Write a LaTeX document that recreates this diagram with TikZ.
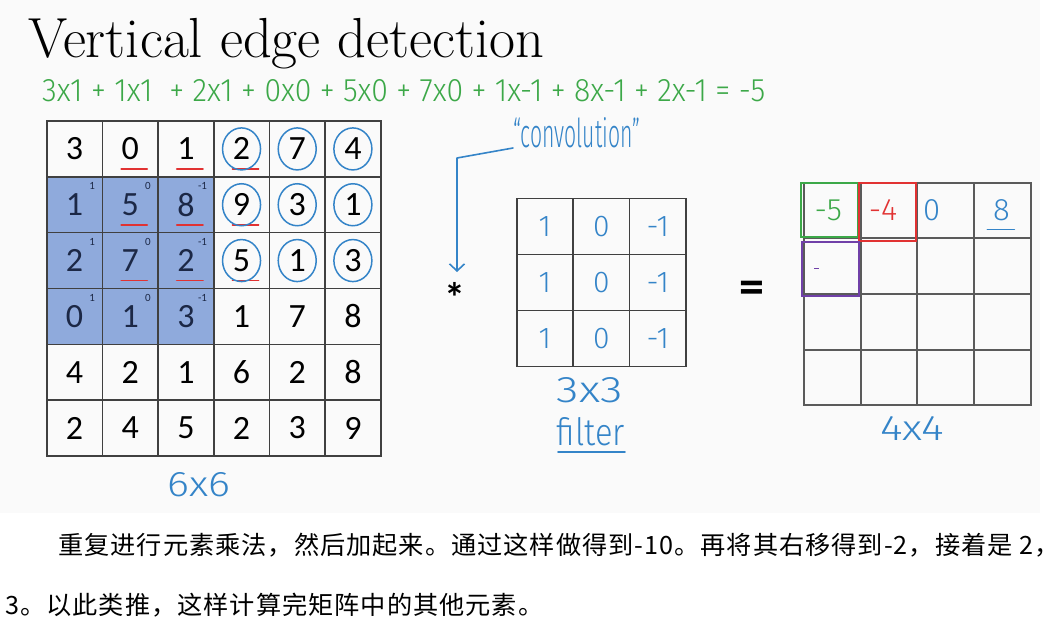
\documentclass[tikz,border=0pt]{standalone}
\usepackage{fontspec}
\usetikzlibrary{arrows.meta}
\newfontfamily\cellfont{Carlito}
\newfontfamily\handfont{Fira Sans Light}
\newfontfamily\cjkfont[LetterSpace=4]{Noto Sans CJK SC}
\definecolor{slidebg}{RGB}{250,250,250}
\definecolor{winblue}{RGB}{143,170,220}
\definecolor{gridc}{RGB}{64,64,64}
\definecolor{outgrid}{RGB}{90,90,90}
\definecolor{penblue}{RGB}{52,132,200}
\definecolor{pengreen}{RGB}{60,168,72}
\definecolor{penred}{RGB}{225,50,50}
\definecolor{penpurple}{RGB}{112,64,168}
\definecolor{navy}{RGB}{28,40,70}
\newcommand{\handtext}[3]{\resizebox{#1pt}{#2pt}{\handfont #3}}
\begin{document}
\begin{tikzpicture}[x=1pt,y=-1pt,
  cell/.style={draw=gridc,line width=1.6pt,minimum width=55.67pt,minimum height=55.83pt,inner sep=0pt,font=\cellfont\fontsize{34}{34}\selectfont},
  fcell/.style={draw=gridc,line width=1.6pt,minimum width=56.4pt,minimum height=56.1pt,inner sep=0pt,text=penblue,font=\handfont\fontsize{30}{30}\selectfont},
  ocell/.style={draw=outgrid,line width=2pt,minimum width=56.67pt,minimum height=55.6pt,inner sep=0pt,font=\handfont\fontsize{31}{31}\selectfont},
  supnum/.style={inner sep=0pt,text=navy,font=\cellfont\fontsize{11}{11}\selectfont},
  redline/.style={penred,line width=1.8pt,line cap=round},
  bluecirc/.style={penblue,line width=1.5pt},
  pen/.style={penblue,line width=1.6pt,line cap=round,line join=round},
  label/.style={inner sep=0pt,text=penblue},
  outval/.style={inner sep=0pt,font=\handfont\fontsize{31}{31}\selectfont}
]
\useasboundingbox (0,0) rectangle (1060,623);
\fill[white] (0,0) rectangle (1060,623);
\fill[slidebg] (0,0) rectangle (1040,513);

% title
\node[anchor=base west,inner sep=0pt,font=\fontsize{56.5}{56.5}\selectfont] (title) at (28,58) {Vertical edge detection};

% green equation
\node[anchor=west,inner sep=0pt,text=pengreen] (eq) at (42,91) {\handtext{723}{22}{3x1 + 1x1 \ + 2x1 + 0x0 + 5x0 + 7x0 + 1x-1 + 8x-1 + 2x-1 = -5}};

% shading of 3x3 window
\fill[winblue] (46.7,176.7) rectangle (214,344);

% 6x6 input
\foreach \rowvals [count=\r] in {{3,0,1,2,7,4},{1,5,8,9,3,1},{2,7,2,5,1,3},{0,1,3,1,7,8},{4,2,1,6,2,8},{2,4,5,2,3,9}}{
  \foreach \v [count=\c] in \rowvals {
    \pgfmathtruncatemacro\sh{and(and(\r>1,\r<5),\c<4)}
    \node[cell] (m-\r-\c) at ({46.7+(\c-0.5)*55.67},{121+(\r-0.5)*55.83}) {\ifnum\sh=1\color{navy}\fi\v};
  }
}
% filter weights on the window
\foreach \r in {2,3,4}{
  \node[supnum] at ([xshift=-11pt,yshift=-10pt]m-\r-1.north east) {1};
  \node[supnum] at ([xshift=-11pt,yshift=-10pt]m-\r-2.north east) {0};
  \node[supnum] at ([xshift=-12pt,yshift=-10pt]m-\r-3.north east) {-1};
}
% red underlines
\foreach \r/\c in {1/2,1/3,2/2,2/3,3/2,3/3,1/4,2/4,3/4}{
  \draw[redline] ([xshift=-9pt,yshift=-20pt]m-\r-\c.center) -- ++(26,0);
}
% blue circles
\foreach \r in {1,2,3}{
  \foreach \c in {4,5,6}{
    \draw[bluecirc] (m-\r-\c.center) ellipse [x radius=19, y radius=21];
  }
}
\node[label] (l66) at (199,485) {\handtext{62}{24}{6x6}};

% convolution label and arrow
\node[label,anchor=south west] (conv) at (513,148) {\handtext{127}{30}{“convolution”}};
\coordinate (tip) at (457,272);
\draw[pen,-{Straight Barb[length=7pt,width=15pt]}] (conv.south west) -- (457,158) -- (tip);
\node[anchor=base,inner sep=0pt,font=\cellfont\bfseries\fontsize{42}{42}\selectfont] (star) at (455,312) {*};

% filter 3x3
\foreach \rowvals [count=\r] in {{1,0,-1},{1,0,-1},{1,0,-1}}{
  \foreach \v [count=\c] in \rowvals {
    \node[fcell] (f-\r-\c) at ({516.7+(\c-0.5)*56.4},{198.3+(\r-0.5)*56.1}) {\v};
  }
}
\node[label] (l33) at (590,390) {\handtext{66}{25}{3x3}};
\node[label] (lfilter) at (591,432) {\handtext{68}{28}{filter}};
\draw[pen] (558,452) -- (625,452);

% equals
\node[inner sep=0pt,font=\cellfont\bfseries\fontsize{50}{50}\selectfont] (eqsign) at (752,292) {=};

% output 4x4
\foreach \r in {1,...,4}{
  \foreach \c in {1,...,4}{
    \node[ocell] (o-\r-\c) at ({804+(\c-0.5)*56.67},{182.7+(\r-0.5)*55.6}) {};
  }
}
\node[outval,text=pengreen] at ([xshift=-4pt]o-1-1.center) {-5};
\node[outval,text=penred] at ([xshift=-6pt]o-1-2.center) {-4};
\node[outval,text=penblue] at ([xshift=-14pt]o-1-3.center) {0};
\node[outval,text=penblue] at ([xshift=-1pt]o-1-4.center) {8};
\draw[pen] ([xshift=-15pt,yshift=-19pt]o-1-4.center) -- ++(27,0);
\draw[pengreen,line width=1.8pt] (800.7,183.3) rectangle (858.3,236.7);
\draw[penred,line width=1.8pt] (859,182.7) rectangle (916,240.7);
\draw[penpurple,line width=1.8pt] (801.7,241.7) rectangle (859,295.7);
\draw[penpurple,line width=1.2pt] (814,268.3) -- (819,268.3);
\node[label] (l44) at (912,428) {\handtext{64}{24}{4x4}};

% Chinese text
\node[anchor=base west,inner sep=0pt,font=\cjkfont\fontsize{25.2}{25.2}\selectfont] (t1) at (58,554) {重复进行元素乘法，然后加起来。通过这样做得到-10。再将其右移得到-2，接着是 2，};
\node[anchor=base west,inner sep=0pt,font=\cjkfont\fontsize{25.2}{25.2}\selectfont] (t2) at (5,614) {3。以此类推，这样计算完矩阵中的其他元素。};
\end{tikzpicture}
\end{document}
